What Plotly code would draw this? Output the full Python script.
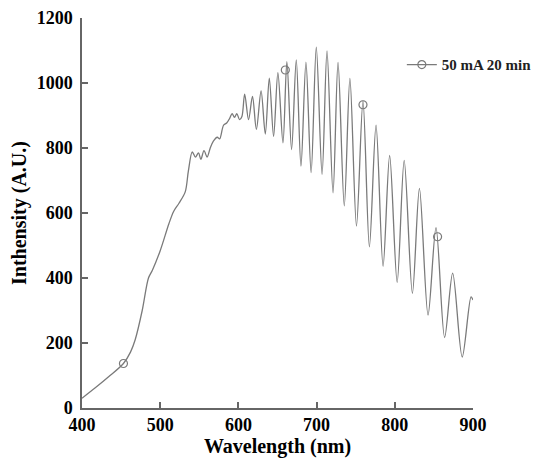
import plotly.graph_objects as go

# Spectrum (wavelength in nm, intensity in A.U.)
wavelength = [400, 417, 434, 453, 462, 468, 477, 485, 490, 500, 511, 517, 524, 532, 536, 541,
              545, 549, 552, 556, 560, 564, 568, 573, 576, 581, 585, 589, 592, 595, 598, 601.5, 604.5,
              608, 613, 618, 623, 629, 634.4, 639.5, 645, 650.5, 657, 662, 668, 674, 680, 686.4, 693,
              699.6, 707, 713.3, 721, 727.4, 735.4, 742.6, 751, 759.3, 767.5, 776, 785, 793.4, 803,
              812, 822.5, 831.5, 842.5, 852.7, 863.7, 874, 886.2, 897.5, 900]
intensity = [30, 62, 96, 137, 172, 210, 300, 400, 424, 484, 566, 604, 630, 665, 729, 788,
             772, 785, 765, 792, 772, 800, 821, 833, 828, 870, 877, 892, 906, 894, 906, 887, 897,
             966, 887, 959, 857, 976, 843, 1015, 836, 1032, 816, 1066, 795, 1071, 744, 1064, 724,
             1110, 719, 1099, 662, 1063, 622, 1014, 560, 945, 496, 870, 436, 777, 387,
             762, 353, 676, 286, 555, 217, 415, 157, 342, 332]

marker_wl = [453, 660, 759.3, 854.7]
marker_int = [137, 1040, 933, 527]

series_name = "50 mA 20 min"
x_ticks = [400, 500, 600, 700, 800, 900]
y_ticks = [0, 200, 400, 600, 800, 1000, 1200]

line_color = "#7a7a7a"
axis_color = "#666666"
font_family = "Liberation Serif, Times New Roman, serif"

fig = go.Figure()
fig.add_trace(go.Scatter(x=wavelength, y=intensity, mode="lines",
                         line=dict(color=line_color, width=1.3, shape="spline", smoothing=0.9),
                         showlegend=False, hoverinfo="skip"))
fig.add_trace(go.Scatter(x=marker_wl, y=marker_int, mode="markers",
                         marker=dict(symbol="circle-open", size=8, color=line_color,
                                     line=dict(width=1.2, color=line_color)),
                         showlegend=False))
fig.add_trace(go.Scatter(x=[None], y=[None], mode="lines+markers", name=series_name,
                         line=dict(color=line_color, width=1.3),
                         marker=dict(symbol="circle-open", size=8, color=line_color,
                                     line=dict(width=1.2, color=line_color))))

fig.update_layout(
    width=535, height=451,
    margin=dict(l=74, r=70, t=10, b=51, autoexpand=False),
    paper_bgcolor="white", plot_bgcolor="white",
    font=dict(family=font_family, color="black", size=17),
    legend=dict(x=0.818, y=0.88, xanchor="left", yanchor="middle",
                bgcolor="rgba(0,0,0,0)",
                font=dict(family=font_family, size=15, color="#222222", weight="bold")),
)
fig.update_xaxes(range=[400, 900], tickvals=x_ticks, ticks="inside", ticklen=6, tickwidth=1.5,
                 tickcolor=axis_color, showline=True, linecolor=axis_color, linewidth=1.5,
                 showgrid=False, zeroline=False, ticklabeloverflow="allow",
                 tickfont=dict(family=font_family, size=18, weight="bold"),
                 title=dict(text="Wavelength (nm)", standoff=0,
                            font=dict(family=font_family, size=20, weight="bold")))
fig.update_yaxes(range=[0, 1200], tickvals=y_ticks, ticks="inside", ticklen=6, tickwidth=1.5,
                 tickcolor=axis_color, showline=True, linecolor=axis_color, linewidth=1.5,
                 showgrid=False, zeroline=False, ticklabelstandoff=4, ticklabeloverflow="allow",
                 tickfont=dict(family=font_family, size=18, weight="bold"),
                 title=dict(text="Inthensity (A.U.)", standoff=6,
                            font=dict(family=font_family, size=20, weight="bold")))

fig.write_html("out.html")
